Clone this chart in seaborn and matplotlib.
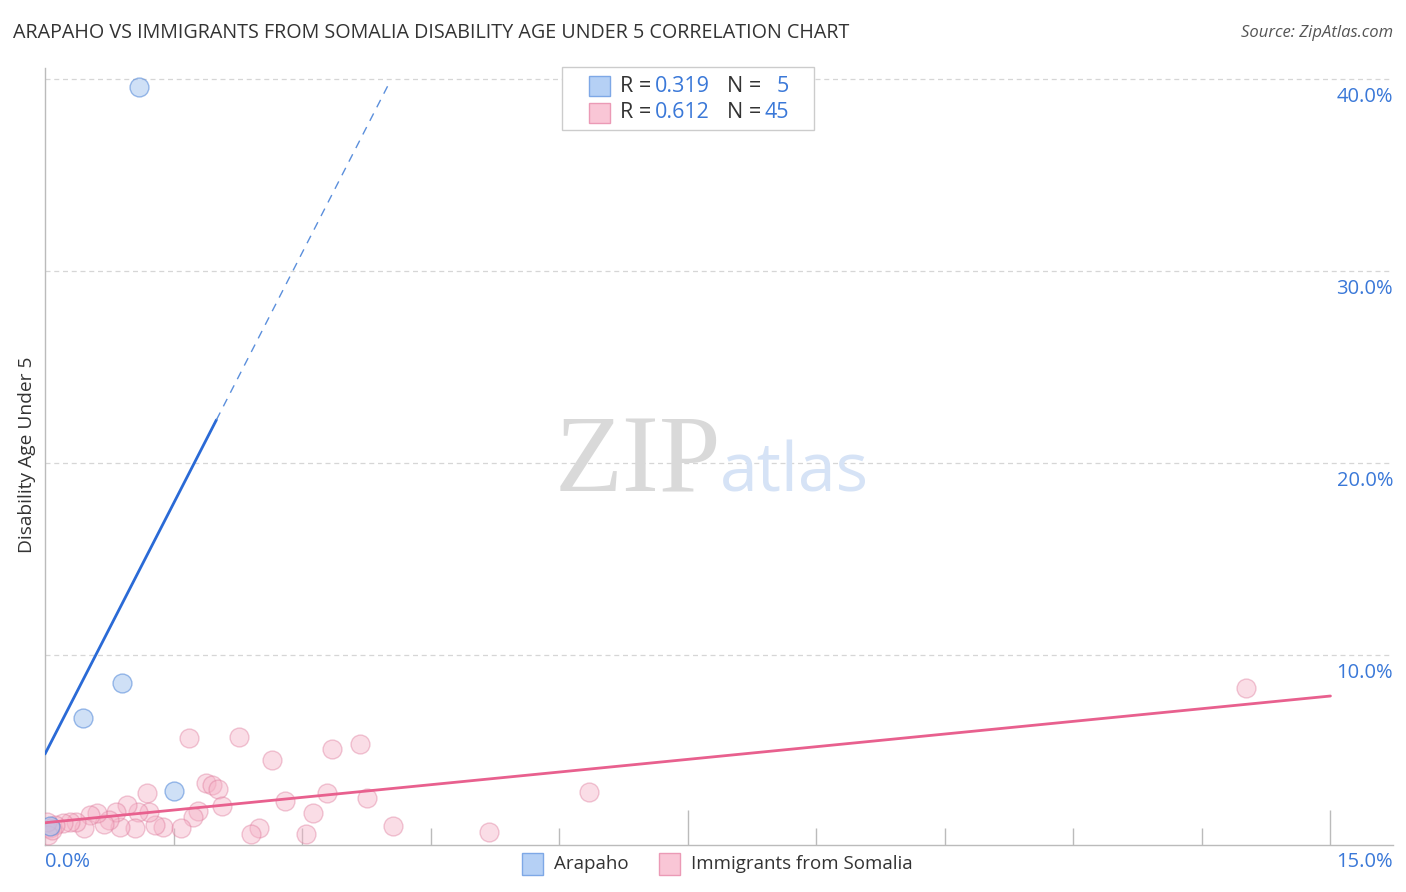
import numpy as np
import pandas as pd
import seaborn as sns
import matplotlib.pyplot as plt
import matplotlib.transforms as mtransforms
from matplotlib.patches import Rectangle

# Arapaho, disability age under 5 (%)
arapaho_x = [1.10, 0.90, 0.44, 1.51, 0.06]
arapaho_y = [39.6, 8.54, 6.72, 2.92, 1.10]

# Immigrants from Somalia
somalia_x = [1.68, 2.26, 2.65, 3.35, 3.67, 1.19, 1.88, 1.95, 2.02, 2.07,
             1.79, 1.73, 1.59, 1.38, 1.28, 1.21, 1.09, 1.05, 0.96, 0.88,
             0.83, 0.75, 0.69, 0.61, 0.53, 0.46, 0.36, 0.29, 0.21, 0.12,
             0.06, 0.04, 2.80, 3.29, 3.76, 3.13, 2.50, 2.40, 3.04, 4.06,
             5.18, 6.35, 14.01, 0.02, 0.08]
somalia_y = [5.66, 5.71, 4.53, 5.09, 5.35, 2.80, 3.32, 3.23, 3.01, 2.14,
             1.88, 1.55, 0.97, 1.06, 1.15, 1.84, 1.84, 0.97, 2.19, 1.06,
             1.84, 1.41, 1.20, 1.79, 1.67, 0.97, 1.32, 1.32, 1.23, 1.15,
             0.97, 0.63, 2.41, 2.80, 2.54, 1.76, 1.01, 0.66, 0.66, 1.09,
             0.78, 2.86, 8.28, 1.30, 0.89]

# fitted lines (intercept, slope) and stats shown in the legend
arapaho_fit = (4.84, 8.70)
somalia_fit = (1.26, 0.44)
arapaho_stats = ("0.319", "5")
somalia_stats = ("0.612", "45")
y_ticks = [10, 20, 30, 40]
y_labels = ["10.0%", "20.0%", "30.0%", "40.0%"]

BLUE = "#3a78d8"
W, H = 1406, 892


def fx(px):
    return px / W


def fy(py):
    return 1 - py / H


sns.set_style("white")
plt.rcParams["font.family"] = ["Open Sans", "DejaVu Sans"]

fig = plt.figure(figsize=(14.06, 8.92), dpi=100)
ax = fig.add_axes([fx(45), fy(845), fx(1393 - 45), (845 - 68) / H])

df_a = pd.DataFrame({"x": arapaho_x, "y": arapaho_y})
df_s = pd.DataFrame({"x": somalia_x, "y": somalia_y})

sns.scatterplot(data=df_s, x="x", y="y", ax=ax, s=185, color="#f5b0c5",
                alpha=0.42, edgecolor="#de7c9d", linewidth=1.0, zorder=3)
sns.scatterplot(data=df_a, x="x", y="y", ax=ax, s=185, color="#a9c7f0",
                alpha=0.55, edgecolor="#4f86d8", linewidth=1.0, zorder=4)

# regression lines
xs = np.array([0, 15])
ax.plot(xs, somalia_fit[0] + somalia_fit[1] * xs, color="#e8608e", lw=2.0, zorder=5)
xb = np.array([0, 2.0])
ax.plot(xb, arapaho_fit[0] + arapaho_fit[1] * xb, color="#2a6ad6", lw=2.0, zorder=5)
xd = np.array([2.0, 4.03])
ax.plot(xd, arapaho_fit[0] + arapaho_fit[1] * xd, color="#5b8fdc", lw=1.0,
        ls=(0, (6, 5)), zorder=5)

ax.set_xlim(0, 15.73)
ax.set_ylim(0.1, 40.57)
ax.set_xlabel("")
ax.set_ylabel("")

ax.set_yticks(y_ticks)
ax.set_yticklabels([])
ax.tick_params(axis="y", length=0)
ax.yaxis.grid(True, ls=(0, (4, 3)), color="#d6d6d6", lw=0.9)
ax.xaxis.grid(False)

ax.set_xticks([7.5, 15])
ax.set_xticks(np.arange(1.5, 14, 1.5), minor=True)
ax.set_xticklabels([])
ax.tick_params(axis="x", which="major", bottom=True, direction="in", length=25,
               color="#bbbbbb", width=1)
ax.tick_params(axis="x", which="minor", bottom=True, direction="in", length=12,
               color="#bbbbbb", width=1)

for side in ["top", "right"]:
    ax.spines[side].set_visible(False)
for side in ["left", "bottom"]:
    ax.spines[side].set_color("#bbbbbb")
    ax.spines[side].set_linewidth(1)

# right side y labels, sitting a bit under the gridlines
off = mtransforms.ScaledTranslation(0, -0.18, fig.dpi_scale_trans)
for v, lab in zip(y_ticks, y_labels):
    ax.text(1.0, v, lab, transform=ax.get_yaxis_transform() + off,
            ha="right", va="center", fontsize=14.5, color=BLUE)

fig.text(fx(45), fy(862), "0.0%", ha="left", va="center", fontsize=14.5, color=BLUE)
fig.text(fx(1393), fy(862), "15.0%", ha="right", va="center", fontsize=14.5, color=BLUE)

fig.text(fx(13), fy(33), "ARAPAHO VS IMMIGRANTS FROM SOMALIA DISABILITY AGE UNDER 5 CORRELATION CHART",
         ha="left", va="center", fontsize=14.2, color="#333333")
fig.text(fx(1393), fy(33), "Source: ZipAtlas.com", ha="right", va="center",
         fontsize=12, color="#555555", style="italic")
fig.text(fx(27), fy(455), "Disability Age Under 5", rotation=90, ha="center",
         va="center", fontsize=13.8, color="#333333")

# watermark
fig.text(fx(555), fy(491), "ZIP", family="Liberation Serif", fontsize=80,
         color="#d9d9d9", ha="left", va="baseline", zorder=0)
fig.text(fx(720), fy(491), "atlas", fontsize=49, color="#d6e3f6",
         ha="left", va="baseline", zorder=0)

# stats legend box
fig.add_artist(Rectangle((fx(562), fy(130)), fx(814 - 562), (130 - 67) / H,
                         transform=fig.transFigure, facecolor="white",
                         edgecolor="#cccccc", lw=1, zorder=6))
rows = [(86, "#b5d0f5", "#7ea8e6", arapaho_stats),
        (113, "#f9c6d6", "#eb9ab6", somalia_stats)]
for py, fc, ec, (r, n) in rows:
    fig.add_artist(Rectangle((fx(589), fy(py + 10)), fx(21), 20 / H,
                             transform=fig.transFigure, facecolor=fc,
                             edgecolor=ec, lw=1, zorder=7))
    fig.text(fx(620), fy(py), "R =", fontsize=15.5, color="#333333", va="center", zorder=7)
    fig.text(fx(655), fy(py), r, fontsize=15.5, color=BLUE, va="center", zorder=7)
    fig.text(fx(727), fy(py), "N =", fontsize=15.5, color="#333333", va="center", zorder=7)
    fig.text(fx(789), fy(py), n, fontsize=15.5, color=BLUE, va="center", ha="right", zorder=7)

# bottom legend
for px, fc, ec, lab in [(522, "#b5d0f5", "#7ea8e6", "Arapaho"),
                        (659, "#f9c6d6", "#eb9ab6", "Immigrants from Somalia")]:
    fig.add_artist(Rectangle((fx(px), fy(875)), fx(21), 22 / H,
                             transform=fig.transFigure, facecolor=fc,
                             edgecolor=ec, lw=1))
    fig.text(fx(px + 32), fy(864), lab, fontsize=13.5, color="#333333", va="center")

fig.savefig("out.png", dpi=100)
